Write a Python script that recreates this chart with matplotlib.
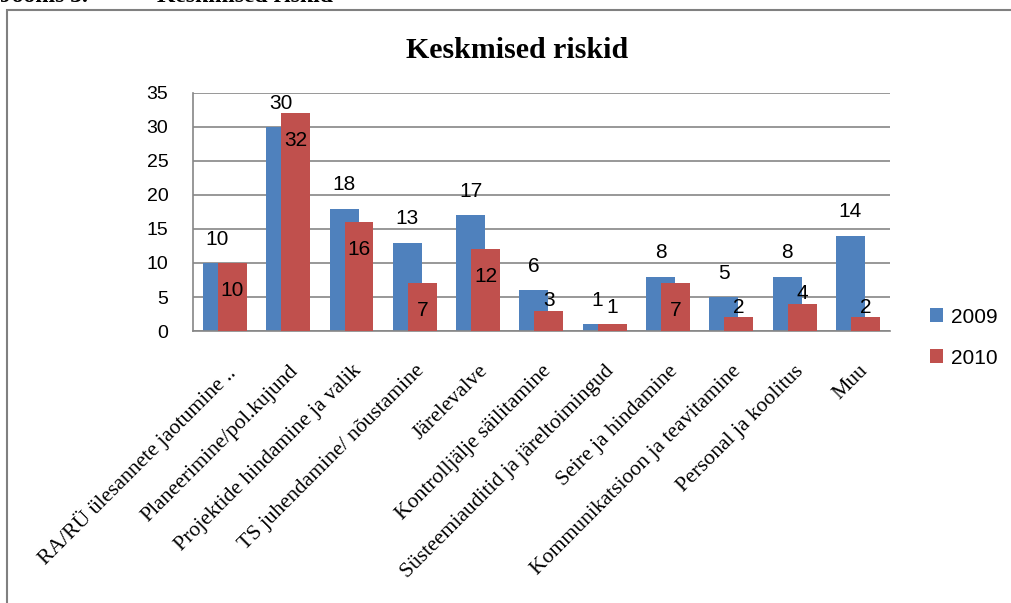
import numpy as np
import matplotlib.pyplot as plt
from matplotlib.patches import Rectangle

# Andmed
kategooriad = ["RA/RÜ ülesannete jaotumine ..",
               "Planeerimine/pol.kujund",
               "Projektide hindamine ja valik",
               "TS juhendamine/ nõustamine",
               "Järelevalve",
               "Kontrolljälje säilitamine",
               "Süsteemiauditid ja järeltoimingud",
               "Seire ja hindamine",
               "Kommunikatsioon ja teavitamine",
               "Personal ja koolitus",
               "Muu"]
riskid_2009 = [10, 30, 18, 13, 17, 6, 1, 8, 5, 8, 14]
riskid_2010 = [10, 32, 16, 7, 12, 3, 1, 7, 2, 4, 2]
aastad = ["2009", "2010"]

sinine = "#4F81BD"
punane = "#C0504D"
hall = "#868686"

fig = plt.figure(figsize=(10.12, 6.03), dpi=100)
ax = fig.add_axes([0.191, 0.451, 0.688, 0.395])

x = np.arange(len(kategooriad))
laius = 0.457
nihe = 0.118
ax.bar(x - nihe, riskid_2009, laius, color=sinine, label=aastad[0], zorder=2)
ax.bar(x + nihe, riskid_2010, laius, color=punane, label=aastad[1], zorder=3)

# Väärtuste sildid
for i in range(len(x)):
    ax.text(x[i] - nihe, riskid_2009[i] + 3.5, str(riskid_2009[i]),
            ha="center", va="center", fontsize=15, family="Liberation Sans", zorder=4)
    v = riskid_2010[i]
    y = v - 4 if v >= 7 else max(v + 1.5, 3.5)
    ax.text(x[i] + nihe, y, str(v), ha="center", va="center",
            fontsize=15, family="Liberation Sans", zorder=4)

ax.set_xlim(-0.5, 10.5)
ax.set_ylim(0, 35)
ax.set_yticks(np.arange(0, 36, 5))
ax.yaxis.grid(True, color=hall, linewidth=1.2, zorder=0)
ax.set_axisbelow(True)
for s in ["top", "right"]:
    ax.spines[s].set_visible(False)
for s in ["left", "bottom"]:
    ax.spines[s].set_color(hall)
    ax.spines[s].set_linewidth(1.2)
ax.tick_params(axis="y", length=0, pad=18, labelsize=14)
ax.tick_params(axis="x", length=0, pad=22)
for t in ax.get_yticklabels():
    t.set_family("Liberation Sans")

ax.set_xticks(x)
ax.set_xticklabels(kategooriad, rotation=45, ha="right", va="top",
                   rotation_mode="anchor", family="Liberation Serif", fontsize=15.6)

fig.text(0.511, 0.917, "Keskmised riskid", ha="center", va="center",
         fontsize=21.5, fontweight="bold", family="Liberation Serif")

# Ülemine lõigatud pealkiri
fig.text(0.0, 0.997, "Joonis 3.", ha="left", va="baseline",
         fontsize=17, fontweight="bold", family="Liberation Serif")
fig.text(0.155, 0.997, "Keskmised riskid", ha="left", va="baseline",
         fontsize=17, fontweight="bold", family="Liberation Serif")

# Raam
fig.patches.append(Rectangle((7 / 1012, -0.1), 1.2, 1 - 10 / 603 + 0.1,
                             transform=fig.transFigure, fill=False,
                             edgecolor="#808080", linewidth=1.5))

ax.legend(loc="center left", bbox_to_anchor=(0.9, 0.44),
          bbox_transform=fig.transFigure, frameon=False,
          prop={"family": "Liberation Sans", "size": 15},
          handlelength=0.65, handleheight=0.65, handletextpad=0.4,
          labelspacing=1.05)

fig.savefig("out.png", dpi=100)
